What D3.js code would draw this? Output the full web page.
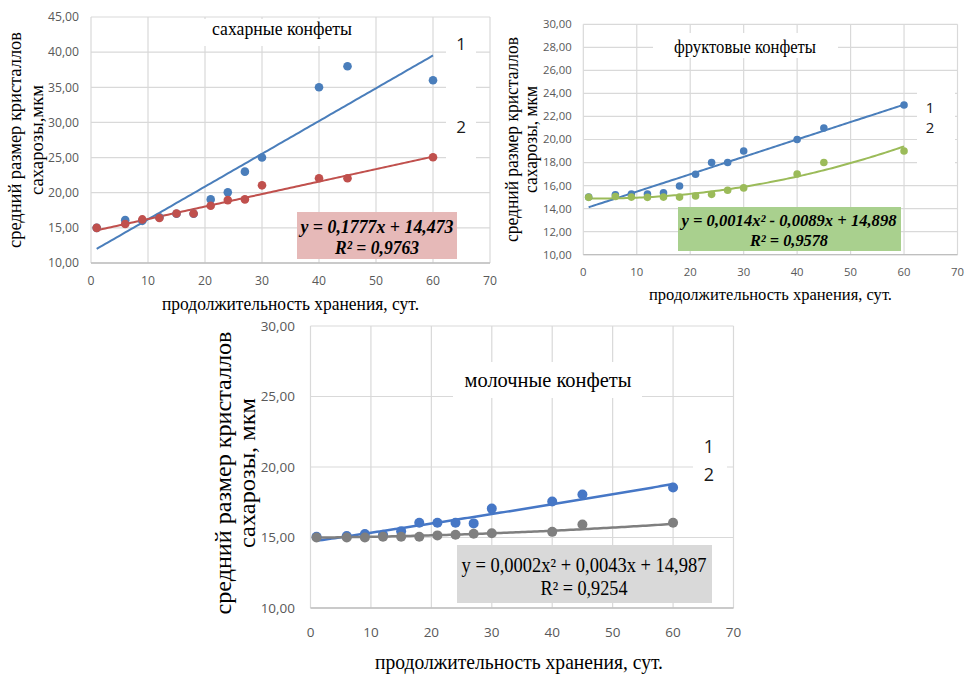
<!DOCTYPE html>
<html><head><meta charset="utf-8">
<script src="https://cdn.jsdelivr.net/npm/d3@7"></script>
<style>body{margin:0;background:#fff}svg{display:block}</style>
</head><body>
<svg id="c" width="965" height="676"></svg>
<script>
// ---------- data ----------
const days = [1, 6, 9, 12, 15, 18, 21, 24, 27, 30, 40, 45, 60];

const sugar1 = [15, 16.1, 16, 16.5, 17, 17, 19.05, 20.05, 23, 25, 35, 38, 36];
const sugar2 = [15, 15.55, 16.2, 16.4, 17.05, 17.05, 18.15, 18.95, 19.05, 21.05, 22.05, 22.05, 25.05];

const fruit1 = [15, 15.2, 15.27, 15.27, 15.38, 15.96, 16.98, 18, 18, 19, 20, 21, 23];
const fruit2 = [14.98, 15.05, 15, 14.98, 15, 15, 15.1, 15.24, 15.6, 15.8, 17, 18, 19];

const milk1 = [15.05, 15.1, 15.25, 15.2, 15.45, 16.05, 16.05, 16.05, 16, 17.05, 17.55, 18.05, 18.55];
const milk2 = [15, 15, 15, 15.05, 15.05, 15.05, 15.15, 15.2, 15.27, 15.3, 15.4, 15.92, 16.05];

// displayed trend equations (constant, x, x^2)
const sugar2Coef = [14.473, 0.1777];
const fruit2Coef = [14.898, -0.0089, 0.0014];
const milk2Coef = [14.987, 0.0043, 0.0002];

const xTicks = [0, 10, 20, 30, 40, 50, 60, 70];
const sugarYTicks = [10, 15, 20, 25, 30, 35, 40, 45];
const fruitYTicks = [10, 12, 14, 16, 18, 20, 22, 24, 26, 28, 30];
const milkYTicks = [10, 15, 20, 25, 30];

const chartTitles = ["сахарные конфеты", "фруктовые конфеты", "молочные конфеты"];
const yTitleLine1 = "средний размер кристаллов";
const yTitleLine2 = ["сахарозы,мкм", "сахарозы, мкм", "сахарозы, мкм"];
const xTitleText = "продолжительность хранения, сут.";
const legendLabels = ["1", "2"];
const sugarEq = ["y = 0,1777x + 14,473", "R² = 0,9763"];
const fruitEq = ["y = 0,0014x² - 0,0089x + 14,898", "R² = 0,9578"];
const milkEq = ["y = 0,0002x² + 0,0043x + 14,987", "R² = 0,9254"];

// ---------- helpers ----------
function polyfit(xs, ys, deg) {
  const n = deg + 1;
  const A = Array.from({length: n}, () => new Array(n + 1).fill(0));
  for (let i = 0; i < xs.length; i++) {
    for (let r = 0; r < n; r++) {
      for (let c = 0; c < n; c++) A[r][c] += Math.pow(xs[i], r + c);
      A[r][n] += ys[i] * Math.pow(xs[i], r);
    }
  }
  for (let i = 0; i < n; i++) {
    let p = i;
    for (let k = i + 1; k < n; k++) if (Math.abs(A[k][i]) > Math.abs(A[p][i])) p = k;
    [A[i], A[p]] = [A[p], A[i]];
    for (let k = i + 1; k < n; k++) {
      const f = A[k][i] / A[i][i];
      for (let j = i; j <= n; j++) A[k][j] -= f * A[i][j];
    }
  }
  const c = new Array(n).fill(0);
  for (let i = n - 1; i >= 0; i--) {
    let s = A[i][n];
    for (let j = i + 1; j < n; j++) s -= A[i][j] * c[j];
    c[i] = s / A[i][i];
  }
  return c;
}
const evalPoly = (c, x) => c.reduce((s, k, i) => s + k * Math.pow(x, i), 0);
const fmtTick = v => d3.format(".2f")(v).replace(".", ",");

const svg = d3.select("#c");
const SERIF = "'Liberation Serif','Times New Roman',serif";
const SANS = "'Open Sans','Liberation Sans',sans-serif";

function label(g, o) {
  const t = g.append("text")
    .attr("x", o.x).attr("y", o.y).attr("dy", o.dy || "0.35em")
    .attr("text-anchor", o.anchor || "middle")
    .attr("font-family", o.family || SERIF)
    .attr("font-size", o.size)
    .attr("fill", o.fill || "#000")
    .text(o.text);
  if (o.weight) t.attr("font-weight", o.weight);
  if (o.style) t.attr("font-style", o.style);
  if (o.len) t.attr("textLength", o.len).attr("lengthAdjust", "spacingAndGlyphs");
  if (o.rotate) t.attr("transform", `rotate(-90,${o.x},${o.y})`);
  return t;
}

function drawChart(cfg) {
  const g = svg.append("g");
  const x = d3.scaleLinear().domain([0, 70]).range(cfg.xr);
  const y = d3.scaleLinear().domain(cfg.yDomain).range(cfg.yr);

  // gridlines
  g.append("g").selectAll("line").data(cfg.yTicks).join("line")
    .attr("x1", cfg.xr[0]).attr("x2", cfg.xr[1])
    .attr("y1", d => y(d)).attr("y2", d => y(d))
    .attr("stroke", "#d9d9d9").attr("stroke-width", 1.2);
  g.append("g").selectAll("line").data(xTicks).join("line")
    .attr("x1", d => x(d)).attr("x2", d => x(d))
    .attr("y1", cfg.yr[0]).attr("y2", cfg.yr[1])
    .attr("stroke", "#d9d9d9").attr("stroke-width", 1.2);
  g.append("line").attr("x1", cfg.xr[0]).attr("x2", cfg.xr[1])
    .attr("y1", cfg.yr[0]).attr("y2", cfg.yr[0])
    .attr("stroke", "#bfbfbf").attr("stroke-width", 1.3);

  // tick labels
  cfg.yTicks.forEach(v => label(g, {x: cfg.xr[0] - cfg.yLabOff, y: y(v), text: fmtTick(v),
    anchor: "end", family: SANS, size: cfg.tickSize, fill: "#595959"}));
  xTicks.forEach(v => label(g, {x: x(v), y: cfg.yr[0] + cfg.xLabOff, text: String(v),
    family: SANS, size: cfg.tickSize, fill: "#595959"}));

  // white boxes behind title / legend
  [cfg.titleBox, cfg.legendBox].forEach(b => g.append("rect")
    .attr("x", b[0]).attr("y", b[1]).attr("width", b[2] - b[0]).attr("height", b[3] - b[1])
    .attr("fill", "#fff"));

  // trend lines + markers
  const line = d3.line().x(d => x(d[0])).y(d => y(d[1]));
  const xs = d3.range(days[0], days[days.length - 1] + 0.001, 0.5);
  cfg.series.forEach(s => {
    const coef = s.coef || polyfit(days, s.vals, s.deg);
    g.append("path").datum(xs.map(v => [v, evalPoly(coef, v)]))
      .attr("d", line).attr("fill", "none")
      .attr("stroke", s.color).attr("stroke-width", cfg.lineW);
  });
  cfg.series.forEach(s => {
    g.append("g").selectAll("circle").data(days.map((d, i) => [d, s.vals[i]])).join("circle")
      .attr("cx", d => x(d[0])).attr("cy", d => y(d[1])).attr("r", cfg.r)
      .attr("fill", s.color);
  });

  // title & legend
  label(g, {x: cfg.title.cx, y: cfg.title.cy, text: cfg.title.text, size: cfg.title.size, len: cfg.title.len});
  legendLabels.forEach((t, i) => label(g, {x: cfg.legend[i][0], y: cfg.legend[i][1], text: t,
    size: cfg.legendSize, family: SANS, fill: "#1a1a1a"}));

  // equation box
  const eb = cfg.eqBox;
  g.append("rect").attr("x", eb[0]).attr("y", eb[1]).attr("width", eb[2] - eb[0]).attr("height", eb[3] - eb[1])
    .attr("fill", cfg.eqFill);
  cfg.eq.lines.forEach((t, i) => label(g, {x: cfg.eq.cx, y: cfg.eq.cy[i], text: t, size: cfg.eq.size,
    weight: cfg.eq.weight, style: cfg.eq.style, len: cfg.eq.len[i]}));

  // axis titles
  label(g, {x: cfg.yt.x1, y: cfg.yt.cy, text: yTitleLine1, size: cfg.yt.size, rotate: true, len: cfg.yt.len1, dy: "0.3em"});
  label(g, {x: cfg.yt.x2, y: cfg.yt.cy, text: cfg.yt.line2, size: cfg.yt.size, rotate: true, len: cfg.yt.len2, dy: "0.3em"});
  label(g, {x: cfg.xt.cx, y: cfg.xt.cy, text: xTitleText, size: cfg.xt.size, len: cfg.xt.len, dy: "0.3em"});
}

const BLUE = "#4a7ebb", RED = "#c0504d", GREEN = "#9bbb59", GRAY = "#7f7f7f", BLUE3 = "#4677c6";

drawChart({
  xr: [91, 490], yr: [263, 17], yDomain: [10, 45], yTicks: sugarYTicks,
  tickSize: 12.2, yLabOff: 12, xLabOff: 18, r: 4.3, lineW: 2,
  series: [{vals: sugar1, color: BLUE, deg: 1}, {vals: sugar2, color: RED, coef: sugar2Coef}],
  titleBox: [203, 19, 362, 46], legendBox: [446, 28, 476, 172],
  title: {text: chartTitles[0], cx: 282, cy: 29, size: 18, len: 140},
  legend: [[461, 44], [461, 127]], legendSize: 17,
  eqBox: [297, 212, 457, 259], eqFill: "#e6b9b8",
  eq: {lines: sugarEq, cx: 377, cy: [226, 247], size: 19, weight: "bold", style: "italic", len: [153, 84]},
  yt: {x1: 15, x2: 37, cy: 140, size: 19, len1: 216, len2: 110, line2: yTitleLine2[0]},
  xt: {cx: 290.5, cy: 305, size: 18, len: 257}
});

drawChart({
  xr: [583.3, 957.5], yr: [254.7, 24.3], yDomain: [10, 30], yTicks: fruitYTicks,
  tickSize: 11.3, yLabOff: 11.6, xLabOff: 17, r: 3.8, lineW: 2,
  series: [{vals: fruit1, color: BLUE, deg: 1}, {vals: fruit2, color: GREEN, coef: fruit2Coef}],
  titleBox: [653, 33, 838, 58], legendBox: [917, 88, 955, 172],
  title: {text: chartTitles[1], cx: 745, cy: 47, size: 18, len: 142},
  legend: [[930, 108], [930, 128]], legendSize: 15,
  eqBox: [678, 207, 901, 251], eqFill: "#a9d08e",
  eq: {lines: fruitEq, cx: 789, cy: [220, 240], size: 16.5, weight: "bold", style: "italic", len: [215, 78]},
  yt: {x1: 513, x2: 532, cy: 139.5, size: 18, len1: 205, len2: 107, line2: yTitleLine2[1]},
  xt: {cx: 770.5, cy: 295, size: 17, len: 243}
});

drawChart({
  xr: [310.5, 733.5], yr: [608, 326], yDomain: [10, 30], yTicks: milkYTicks,
  tickSize: 13.5, yLabOff: 15.5, xLabOff: 24, r: 5, lineW: 2.5,
  series: [{vals: milk1, color: BLUE3, deg: 2}, {vals: milk2, color: GRAY, coef: milk2Coef}],
  titleBox: [453, 362, 642, 398], legendBox: [693, 432, 727, 490],
  title: {text: chartTitles[2], cx: 548, cy: 380, size: 21, len: 167},
  legend: [[709, 447], [709, 475]], legendSize: 18,
  eqBox: [457, 545, 712, 603], eqFill: "#d9d9d9",
  eq: {lines: milkEq, cx: 584, cy: [565, 588], size: 20, len: [245, 87]},
  yt: {x1: 224, x2: 248, cy: 473, size: 23, len1: 283, len2: 150, line2: yTitleLine2[2]},
  xt: {cx: 519, cy: 663, size: 21, len: 288}
});
</script>
</body></html>
